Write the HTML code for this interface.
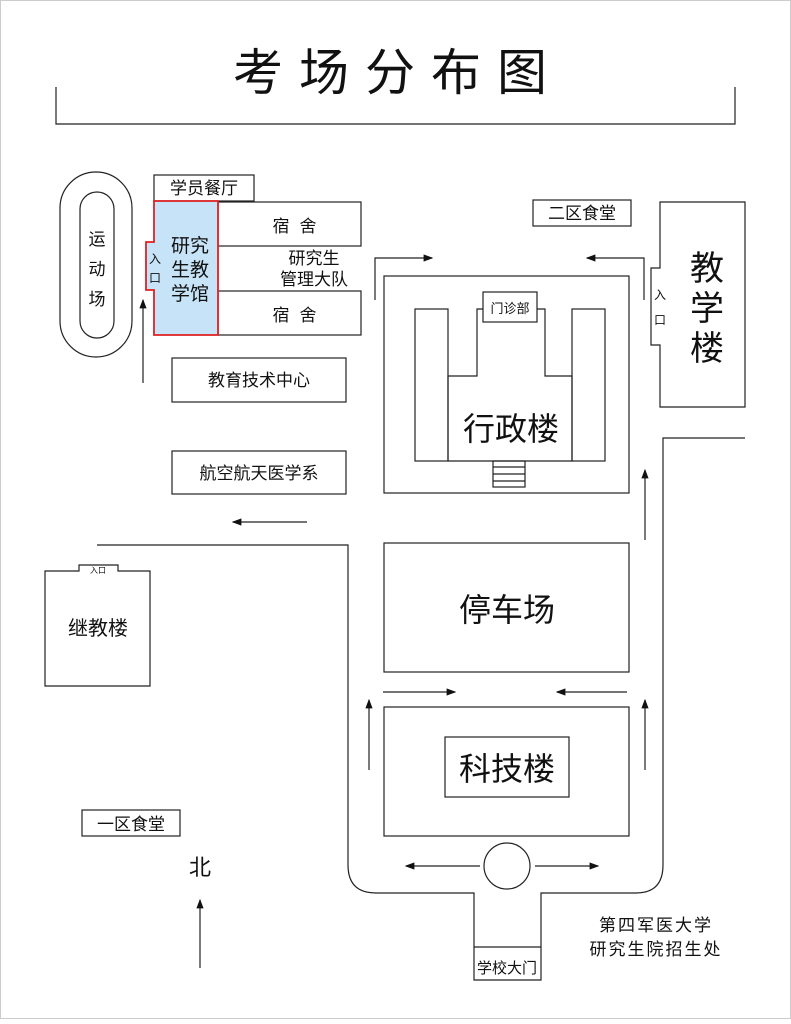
<!DOCTYPE html>
<html><head><meta charset="utf-8"><style>
body{margin:0;background:#fff}
svg text{font-family:"Liberation Sans","Noto Sans CJK SC",sans-serif;fill:#111}
</style></head><body>
<svg width="791" height="1019" viewBox="0 0 791 1019" xmlns="http://www.w3.org/2000/svg">
<defs><marker id="a" markerWidth="8" markerHeight="6" refX="7" refY="3" orient="auto"><path d="M0,0 L8,3 L0,6z" fill="#111"/></marker></defs>
<rect x="0.5" y="0.5" width="790" height="1018" fill="none" stroke="#ccc"/>
<g fill="none" stroke="#222" stroke-width="1.2">
<text x="398" y="90" font-size="50" text-anchor="middle" letter-spacing="16" stroke="none">考场分布图</text>
<polyline points="56,87 56,124 735,124 735,87"/>
<rect x="60" y="172" width="72" height="185" rx="36"/>
<rect x="80" y="192" width="34" height="146" rx="17"/>
<rect x="154" y="175" width="100" height="26"/>
<rect x="218" y="202" width="143" height="44"/>
<rect x="218" y="291" width="143" height="44"/>
<path d="M154,201 H218 V335 H154 V290 H146 V242 H154 Z" fill="#c7e3f7" stroke="#e02020" stroke-width="1.8"/>
<rect x="172" y="358" width="174" height="44"/>
<rect x="172" y="451" width="174" height="43"/>
<path d="M45,571 H79 V565 H118 V571 H150 V686 H45 Z"/>
<rect x="82" y="810" width="98" height="26"/>
<rect x="533" y="200" width="98" height="26"/>
<path d="M660,202 H745 V407 H660 V345 H651 V268 H660 Z"/>
<rect x="384" y="276" width="245" height="217"/>
<rect x="415" y="309" width="33" height="152"/>
<rect x="572" y="309" width="33" height="152"/>
<polyline points="448,461 448,376 477,376 477,309 545,309 545,376 572,376 572,461 448,461"/>
<rect x="483" y="292" width="54" height="30" fill="#fff"/>
<rect x="493" y="461" width="32" height="26"/>
<line x1="493" y1="467" x2="525" y2="467"/><line x1="493" y1="474" x2="525" y2="474"/><line x1="493" y1="481" x2="525" y2="481"/>
<rect x="384" y="543" width="245" height="129"/>
<rect x="384" y="707" width="245" height="129"/>
<rect x="445" y="737" width="124" height="60"/>
<circle cx="507" cy="866" r="23"/>
<path d="M97,545 H348 V865 Q348,893 376,893 H474 V980 H541 V893 H636 Q663,893 663,865 V438 H745"/>
<line x1="474" y1="947" x2="541" y2="947"/>
<polyline points="375,300 375,258 432,258" marker-end="url(#a)"/>
<polyline points="644,300 644,258 587,258" marker-end="url(#a)"/>
<line x1="383" y1="692" x2="455" y2="692" marker-end="url(#a)"/>
<line x1="627" y1="692" x2="557" y2="692" marker-end="url(#a)"/>
<line x1="369" y1="770" x2="369" y2="700" marker-end="url(#a)"/>
<line x1="645" y1="770" x2="645" y2="700" marker-end="url(#a)"/>
<line x1="645" y1="540" x2="645" y2="470" marker-end="url(#a)"/>
<line x1="307" y1="522" x2="233" y2="522" marker-end="url(#a)"/>
<line x1="143" y1="383" x2="143" y2="300" marker-end="url(#a)"/>
<line x1="200" y1="968" x2="200" y2="900" marker-end="url(#a)"/>
<line x1="480" y1="866" x2="406" y2="866" marker-end="url(#a)"/>
<line x1="535" y1="866" x2="598" y2="866" marker-end="url(#a)"/>
</g>
<g font-size="17">
<text x="97" y="245" text-anchor="middle">运</text><text x="97" y="275" text-anchor="middle">动</text><text x="97" y="305" text-anchor="middle">场</text>
<text x="204" y="194" text-anchor="middle">学员餐厅</text>
<text x="281" y="232" text-anchor="middle">宿</text><text x="308" y="232" text-anchor="middle">舍</text>
<text x="281" y="321" text-anchor="middle">宿</text><text x="308" y="321" text-anchor="middle">舍</text>
<text x="314" y="264" text-anchor="middle">研究生</text><text x="314" y="285" text-anchor="middle">管理大队</text>
<text x="190" y="252" text-anchor="middle" font-size="19">研究</text><text x="190" y="276" text-anchor="middle" font-size="19">生教</text><text x="190" y="300" text-anchor="middle" font-size="19">学馆</text>
<text x="155" y="263" font-size="12" text-anchor="middle">入</text><text x="155" y="282" font-size="12" text-anchor="middle">口</text>
<text x="259" y="386" text-anchor="middle">教育技术中心</text>
<text x="259" y="479" text-anchor="middle">航空航天医学系</text>
<text x="98" y="635" text-anchor="middle" font-size="20">继教楼</text>
<text x="98" y="573" text-anchor="middle" font-size="8">入口</text>
<text x="131" y="830" text-anchor="middle">一区食堂</text>
<text x="200" y="875" text-anchor="middle" font-size="22">北</text>
<text x="582" y="219" text-anchor="middle">二区食堂</text>
<text x="707" y="280" text-anchor="middle" font-size="34">教</text><text x="707" y="320" text-anchor="middle" font-size="34">学</text><text x="707" y="360" text-anchor="middle" font-size="34">楼</text>
<text x="660" y="299" text-anchor="middle" font-size="12">入</text><text x="660" y="324" text-anchor="middle" font-size="12">口</text>
<text x="510" y="313" text-anchor="middle" font-size="13">门诊部</text>
<text x="511" y="440" text-anchor="middle" font-size="32">行政楼</text>
<text x="507" y="621" text-anchor="middle" font-size="32">停车场</text>
<text x="507" y="780" text-anchor="middle" font-size="32">科技楼</text>
<text x="507" y="973" text-anchor="middle" font-size="15">学校大门</text>
<text x="656" y="931" text-anchor="middle" letter-spacing="2">第四军医大学</text>
<text x="656" y="955" text-anchor="middle" letter-spacing="2">研究生院招生处</text>
</g>
</svg>
</body></html>
